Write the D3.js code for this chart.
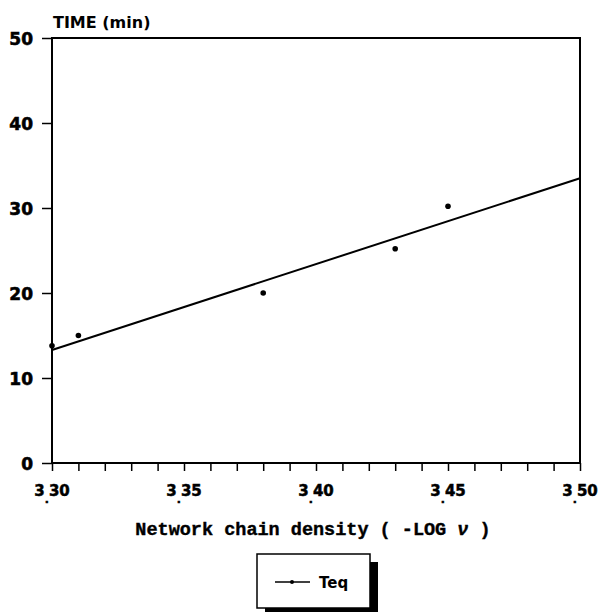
<!DOCTYPE html>
<html>
<head>
<meta charset="utf-8">
<script src="https://cdn.jsdelivr.net/npm/d3@7"></script>
<style>
  body { margin: 0; background: #fff; }
  svg { display: block; }
</style>
</head>
<body>
<script>
// data
const density = [3.30, 3.31, 3.38, 3.43, 3.45]
const teq = [13.8, 15.0, 20.0, 25.2, 30.2]
// fitted line, its two ends
const fitX = [3.30, 3.50]
const fitY = [13.3, 33.5]
const yTicks = [0, 10, 20, 30, 40, 50]
const xLabels = ["3.30", "3.35", "3.40", "3.45", "3.50"]

const width = 598, height = 612
const margin = {left: 52, right: 18, top: 38, bottom: 149}

const svg = d3.select("body").append("svg")
    .attr("width", width)
    .attr("height", height)

const x = d3.scaleLinear()
    .domain([3.30, 3.50])
    .range([margin.left, width - margin.right])
const y = d3.scaleLinear()
    .domain([0, 50])
    .range([height - margin.bottom, margin.top])

// frame
svg.append("rect")
    .attr("x", x(3.30)).attr("y", y(50))
    .attr("width", x(3.50) - x(3.30)).attr("height", y(0) - y(50))
    .attr("fill", "none").attr("stroke", "#000").attr("stroke-width", 2)

// y axis
const yAxis = svg.append("g")
    .attr("transform", `translate(${x(3.30)},0)`)
    .call(d3.axisLeft(y).tickValues(yTicks).tickSize(10).tickPadding(9).tickFormat(d3.format("d")))
yAxis.select(".domain").remove()
yAxis.selectAll("line").attr("stroke-width", 1.5)
yAxis.selectAll("text")
    .attr("font-family", "DejaVu Sans").attr("font-weight", "bold")
    .attr("font-size", 17).attr("fill", "#000").attr("dy", "0.36em")
    .attr("stroke", "#000").attr("stroke-width", 0.6)

// x axis: minor ticks every 0.01
const xAxis = svg.append("g")
    .attr("transform", `translate(0,${y(0)})`)
    .call(d3.axisBottom(x).tickValues(d3.range(0, 21).map(i => 3.30 + i * 0.01)).tickSize(8).tickFormat(""))
xAxis.select(".domain").remove()
xAxis.selectAll("line").attr("stroke-width", 1.5)

// x labels, the decimal point sits low between the digits
const xl = svg.append("g")
    .attr("font-family", "DejaVu Sans").attr("font-weight", "bold").attr("font-size", 15)
    .attr("stroke", "#000").attr("stroke-width", 0.5)
    .selectAll("text")
    .data(xLabels)
    .join("text")
    .attr("x", d => x(+d))
    .attr("y", y(0) + 33)
    .attr("text-anchor", "middle")
xl.append("tspan").text(d => d[0])
xl.append("tspan").attr("dy", 7).attr("font-size", 11).text(".")
xl.append("tspan").attr("dy", -7).text(d => d.slice(2))

// y title
svg.append("text")
    .attr("x", 53).attr("y", 28)
    .attr("font-family", "DejaVu Sans").attr("font-weight", "bold").attr("font-size", 16)
    .text("TIME (min)")

// x title
const xt = svg.append("text")
    .attr("x", (x(3.30) + x(3.50)) / 2 - 3).attr("y", 535)
    .attr("text-anchor", "middle")
    .attr("font-family", "Liberation Mono").attr("font-weight", "bold").attr("font-size", 18.5)
    .attr("stroke", "#000").attr("stroke-width", 0.4)
xt.append("tspan").text("Network chain density ( -LOG ")
xt.append("tspan").attr("font-style", "italic").text("\u03bd")
xt.append("tspan").text(" )")

// fitted line
svg.append("path")
    .datum(d3.zip(fitX, fitY))
    .attr("d", d3.line().x(d => x(d[0])).y(d => y(d[1])))
    .attr("fill", "none").attr("stroke", "#000").attr("stroke-width", 2)

// points
svg.append("g")
    .selectAll("circle")
    .data(d3.zip(density, teq))
    .join("circle")
    .attr("cx", d => x(d[0])).attr("cy", d => y(d[1]))
    .attr("r", 2.8).attr("fill", "#000")

// legend
const lg = svg.append("g").attr("transform", "translate(257,554)")
lg.append("rect").attr("x", 8).attr("y", 8).attr("width", 113).attr("height", 54).attr("fill", "#000")
lg.append("rect").attr("width", 113).attr("height", 54)
    .attr("fill", "#fff").attr("stroke", "#000").attr("stroke-width", 1.5)
lg.append("line").attr("x1", 18).attr("x2", 53).attr("y1", 28).attr("y2", 28)
    .attr("stroke", "#000").attr("stroke-width", 1.5)
lg.append("circle").attr("cx", 35).attr("cy", 28).attr("r", 2).attr("fill", "#000")
lg.append("text").attr("x", 62).attr("y", 34)
    .attr("font-family", "DejaVu Sans").attr("font-weight", "bold").attr("font-size", 15)
    .text("Teq")
</script>
</body>
</html>
